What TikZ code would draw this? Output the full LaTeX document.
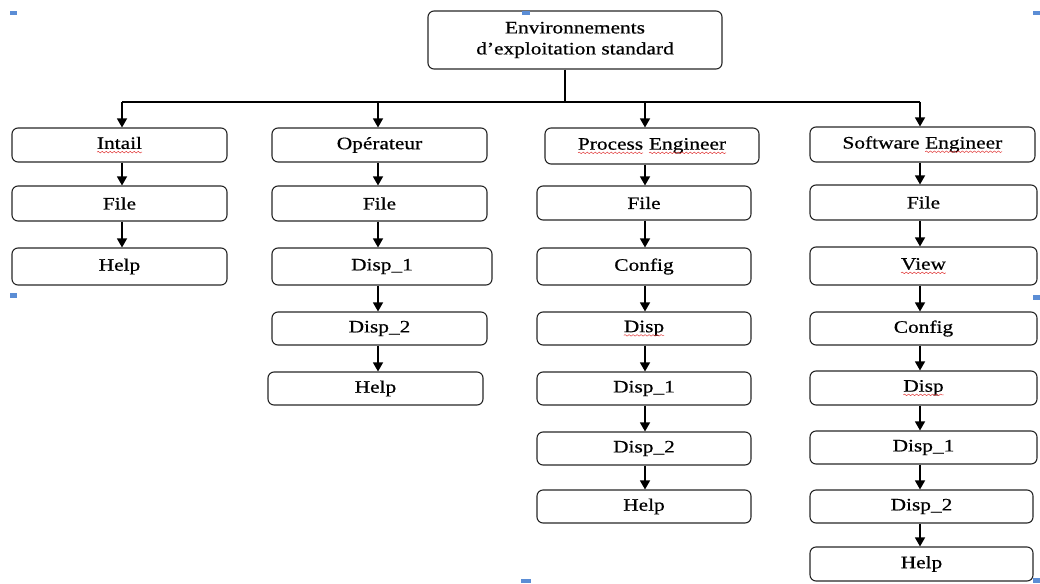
\documentclass[tikz,border=0pt]{standalone}
\usepackage{fontspec}
\setmainfont{Liberation Serif}[FakeStretch=1.22,FakeBold=0.6]
\usetikzlibrary{arrows.meta,decorations.pathmorphing}

\definecolor{handleblue}{RGB}{91,141,213}
\definecolor{spellred}{RGB}{225,60,60}

% word with a red wavy underline
\newcommand\spell[1]{\tikz[baseline=(w.base),sharp corners]{%
  \node[draw=none,fill=none,inner sep=0pt,outer sep=0pt,minimum width=0pt,minimum height=0pt] (w) {#1};%
  \draw[spellred,sharp corners,line width=0.5pt,decorate,decoration={snake,amplitude=0.8pt,segment length=4pt}]
    ([yshift=-3.2pt]w.base west) -- ([yshift=-3.2pt]w.base east);}}

% rounded box given by its left, right, top and bottom edges
\newcommand\cell[6]{\node[box,minimum width={#3-#2},minimum height={#5-#4}] (#1) at ({(#2+#3)/2},{(#4+#5)/2}) {#6};}

\tikzset{
  box/.style={draw=black!85,line width=1.1pt,rounded corners=6pt,inner sep=0pt,align=center,
    font=\fontsize{17.5}{21}\selectfont},
  link/.style={draw=black,line width=1.3pt},
  arr/.style={link,-{Triangle[width=10pt,length=9pt]}},
  handle/.style={fill=handleblue}
}

\begin{document}
\begin{tikzpicture}[x=1pt,y=-1pt]
\useasboundingbox (0,0) rectangle (1040,583);

% root
\cell{root}{428}{722}{11}{69}{Environnements\\d’exploitation standard}

% column 1
\cell{a1}{12}{227}{128}{162}{\spell{Intail}}
\cell{a2}{12}{227}{186}{221}{File}
\cell{a3}{12}{227}{248}{285}{Help}

% column 2
\cell{b1}{272}{487}{128}{162}{Opérateur}
\cell{b2}{272}{487}{186}{221}{File}
\cell{b3}{272}{492}{248}{285}{Disp\_1}
\cell{b4}{272}{487}{312}{345}{Disp\_2}
\cell{b5}{268}{483}{372}{405}{Help}

% column 3
\cell{c1}{545}{759}{128}{164}{\spell{Process} \spell{Engineer}}
\cell{c2}{537}{751}{186}{220}{File}
\cell{c3}{537}{751}{248}{285}{Config}
\cell{c4}{537}{751}{312}{345}{\spell{Disp}}
\cell{c5}{537}{751}{372}{405}{Disp\_1}
\cell{c6}{537}{751}{432}{465}{Disp\_2}
\cell{c7}{537}{751}{490}{523}{Help}

% column 4
\cell{d1}{810}{1035}{127}{162}{Software \spell{Engineer}}
\cell{d2}{810}{1037}{185}{220}{File}
\cell{d3}{810}{1037}{247}{285}{\spell{View}}
\cell{d4}{810}{1037}{312}{345}{Config}
\cell{d5}{810}{1037}{371}{405}{\spell{Disp}}
\cell{d6}{810}{1037}{431}{464}{Disp\_1}
\cell{d7}{810}{1033}{490}{523}{Disp\_2}
\cell{d8}{810}{1033}{547}{581}{Help}

% connector lanes
\coordinate (j) at (565,102);
\coordinate (xa) at (122,0);
\coordinate (xb) at (378,0);
\coordinate (xc) at (645,0);
\coordinate (xd) at (920,0);

% trunk and bus
\draw[link] (root.south -| j) -- (j);
\draw[link] (xa |- j) -- (xd |- j);
\draw[arr] (xa |- j) -- (a1.north -| xa);
\draw[arr] (xb |- j) -- (b1.north -| xb);
\draw[arr] (xc |- j) -- (c1.north -| xc);
\draw[arr] (xd |- j) -- (d1.north -| xd);

% chains
\foreach \u/\v in {a1/a2,a2/a3}
  \draw[arr] (\u.south -| xa) -- (\v.north -| xa);
\foreach \u/\v in {b1/b2,b2/b3,b3/b4,b4/b5}
  \draw[arr] (\u.south -| xb) -- (\v.north -| xb);
\foreach \u/\v in {c1/c2,c2/c3,c3/c4,c4/c5,c5/c6,c6/c7}
  \draw[arr] (\u.south -| xc) -- (\v.north -| xc);
\foreach \u/\v in {d1/d2,d2/d3,d3/d4,d4/d5,d5/d6,d6/d7,d7/d8}
  \draw[arr] (\u.south -| xd) -- (\v.north -| xd);

% selection handles
\fill[handle] (10,11) rectangle (17,15);
\fill[handle] (522,11) rectangle (530,15);
\fill[handle] (1033,11) rectangle (1040,15);
\fill[handle] (10,293) rectangle (17,298);
\fill[handle] (1033,295) rectangle (1040,300);
\fill[handle] (521,579) rectangle (531,583);
\fill[handle] (1033,578) rectangle (1040,583);
\end{tikzpicture}
\end{document}
